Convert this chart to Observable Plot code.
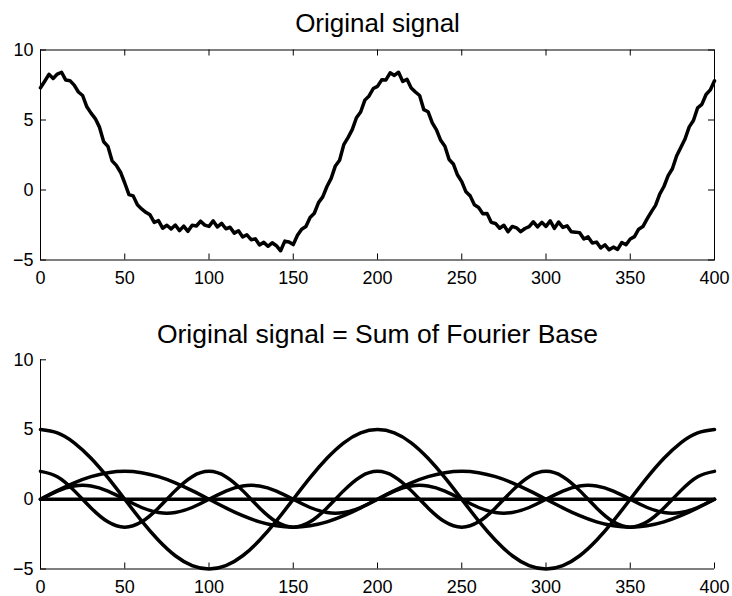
<!DOCTYPE html>
<html><head><meta charset="utf-8">
<script src="https://cdn.jsdelivr.net/npm/d3@7"></script>
<script src="https://cdn.jsdelivr.net/npm/@observablehq/plot@0.6"></script>
<style>body{margin:0;background:#fff} svg{display:block}</style>
</head><body><div id="chart"></div>
<script>
const title1 = "Original signal";
const title2 = "Original signal = Sum of Fourier Base";
const xTicks = [0, 50, 100, 150, 200, 250, 300, 350, 400];
const yTicks = [-5, 0, 5, 10];

// Top panel: noisy signal sampled every 2.5 units from 0 to 400
const signalStep = 2.5;
const signalY = [
7.3,7.77,8.26,7.97,8.28,8.41,7.85,7.81,7.49,7.0,
6.75,5.94,5.49,5.1,4.49,3.45,3.12,2.08,1.76,1.27,
0.5,-0.33,-0.42,-1.06,-1.35,-1.59,-1.77,-2.31,-2.19,-2.73,
-2.52,-2.78,-2.5,-2.9,-2.58,-2.95,-2.51,-2.57,-2.23,-2.51,
-2.6,-2.21,-2.64,-2.39,-2.77,-2.66,-3.08,-2.91,-3.35,-3.2,
-3.55,-3.49,-3.92,-3.74,-4.02,-3.77,-3.98,-4.34,-3.65,-3.71,
-3.9,-3.23,-2.8,-2.61,-1.96,-1.66,-0.9,-0.49,0.25,0.83,
1.72,2.13,3.24,3.74,4.31,5.16,5.57,6.42,6.72,7.25,7.4,
7.87,7.86,8.37,8.18,8.41,7.75,7.91,7.29,7.0,6.75,
5.74,5.59,4.8,4.29,3.55,3.12,2.18,1.86,1.07,0.6,
-0.13,-0.42,-1.06,-1.25,-1.69,-1.67,-2.31,-2.39,-2.73,-2.52,
-2.98,-2.6,-2.7,-2.98,-2.75,-2.61,-2.27,-2.63,-2.31,-2.6,
-2.21,-2.74,-2.29,-2.67,-2.56,-2.98,-3.01,-3.05,-3.5,-3.35,
-3.79,-3.72,-4.14,-3.92,-4.27,-4.08,-4.24,-3.75,-3.91,-3.5,
-3.33,-2.8,-2.61,-2.06,-1.56,-1.1,-0.29,0.25,1.03,1.52,
2.43,3.04,3.64,4.51,4.96,5.87,6.12,6.82,7.15,7.8
];

// Bottom panel: Fourier components sampled every 10 units from 0 to 400
const baseStep = 10;
const base5cos200 = [5,4.76,4.05,2.94,1.55,0,-1.55,-2.94,-4.05,-4.76,-5,-4.76,-4.05,-2.94,-1.55,0,1.55,2.94,4.05,4.76,5,4.76,4.05,2.94,1.55,0,-1.55,-2.94,-4.05,-4.76,-5,-4.76,-4.05,-2.94,-1.55,0,1.55,2.94,4.05,4.76,5];
const base2cos100 = [2,1.62,0.62,-0.62,-1.62,-2,-1.62,-0.62,0.62,1.62,2,1.62,0.62,-0.62,-1.62,-2,-1.62,-0.62,0.62,1.62,2,1.62,0.62,-0.62,-1.62,-2,-1.62,-0.62,0.62,1.62,2,1.62,0.62,-0.62,-1.62,-2,-1.62,-0.62,0.62,1.62,2];
const base2sin200 = [0,0.62,1.18,1.62,1.9,2,1.9,1.62,1.18,0.62,0,-0.62,-1.18,-1.62,-1.9,-2,-1.9,-1.62,-1.18,-0.62,0,0.62,1.18,1.62,1.9,2,1.9,1.62,1.18,0.62,0,-0.62,-1.18,-1.62,-1.9,-2,-1.9,-1.62,-1.18,-0.62,0];
const base1sin100 = [0,0.59,0.95,0.95,0.59,0,-0.59,-0.95,-0.95,-0.59,0,0.59,0.95,0.95,0.59,0,-0.59,-0.95,-0.95,-0.59,0,0.59,0.95,0.95,0.59,0,-0.59,-0.95,-0.95,-0.59,0,0.59,0.95,0.95,0.59,0,-0.59,-0.95,-0.95,-0.59,0];
const baseFlatX = [0, 400];
const baseFlatY = [0, 0];

const signal = signalY.map((y, i) => ({x: i * signalStep, y}));
const components = [
  {name: "5cos", ys: base5cos200},
  {name: "2cos", ys: base2cos100},
  {name: "2sin", ys: base2sin200},
  {name: "sin", ys: base1sin100}
];
const compData = components.flatMap(c => c.ys.map((y, i) => ({s: c.name, x: i * baseStep, y})));
const flatData = baseFlatX.map((x, i) => ({s: "flat", x, y: baseFlatY[i]}));

const W = 732, H = 298, ML = 40, MR = 18, TL = 6;
const FW = W - ML - MR;
const font = "'Liberation Sans', Arial, Helvetica, sans-serif";
const style = {fontFamily: font, fontSize: "18px", background: "white", color: "black", overflow: "visible"};

// top panel
const mt1 = 49.5, mb1 = 38.5, FH1 = H - mt1 - mb1;
const topPlot = Plot.plot({
  width: W, height: H, marginLeft: ML, marginRight: MR, marginTop: mt1, marginBottom: mb1,
  x: {domain: [0, 400]}, y: {domain: [-5, 10]},
  style,
  marks: [
    Plot.axisX(xTicks, {tickSize: 0, tickPadding: 11, label: null}),
    Plot.axisY(yTicks, {tickSize: 0, tickPadding: 7, label: null}),
    Plot.ruleX(xTicks, {x: d => d, insetTop: FH1 - TL, stroke: "black"}),
    Plot.ruleX(xTicks, {x: d => d, insetBottom: FH1 - TL, stroke: "black"}),
    Plot.ruleY(yTicks, {y: d => d, insetRight: FW - TL, stroke: "black"}),
    Plot.ruleY(yTicks, {y: d => d, insetLeft: FW - TL, stroke: "black"}),
    Plot.frame({stroke: "black"}),
    Plot.line(signal, {x: "x", y: "y", stroke: "black", strokeWidth: 3.5, strokeLinejoin: "round"}),
    Plot.text([title1], {text: d => d, frameAnchor: "top", dy: -36, fontSize: 26})
  ]
});

// bottom panel
const mt2 = 61.3, mb2 = 27.5, FH2 = H - mt2 - mb2;
const bottomPlot = Plot.plot({
  width: W, height: H, marginLeft: ML, marginRight: MR, marginTop: mt2, marginBottom: mb2,
  x: {domain: [0, 400]}, y: {domain: [-5, 10]},
  style,
  marks: [
    Plot.axisX(xTicks, {tickSize: 0, tickPadding: 11, label: null}),
    Plot.axisY(yTicks, {tickSize: 0, tickPadding: 7, label: null}),
    Plot.ruleX(xTicks, {x: d => d, insetTop: FH2 - TL, stroke: "black"}),
    Plot.ruleY(yTicks, {y: d => d, insetRight: FW - TL, stroke: "black"}),
    Plot.ruleX([0], {stroke: "black"}),
    Plot.ruleY([-5], {stroke: "black"}),
    Plot.line(flatData, {x: "x", y: "y", z: "s", stroke: "black", strokeWidth: 3.5}),
    Plot.line(compData, {x: "x", y: "y", z: "s", stroke: "black", strokeWidth: 3.5, curve: "natural"}),
    Plot.text([title2], {text: d => d, frameAnchor: "top", dy: -36, fontSize: 26.5})
  ]
});

const el = document.getElementById("chart");
el.appendChild(topPlot);
el.appendChild(bottomPlot);
</script></body></html>
